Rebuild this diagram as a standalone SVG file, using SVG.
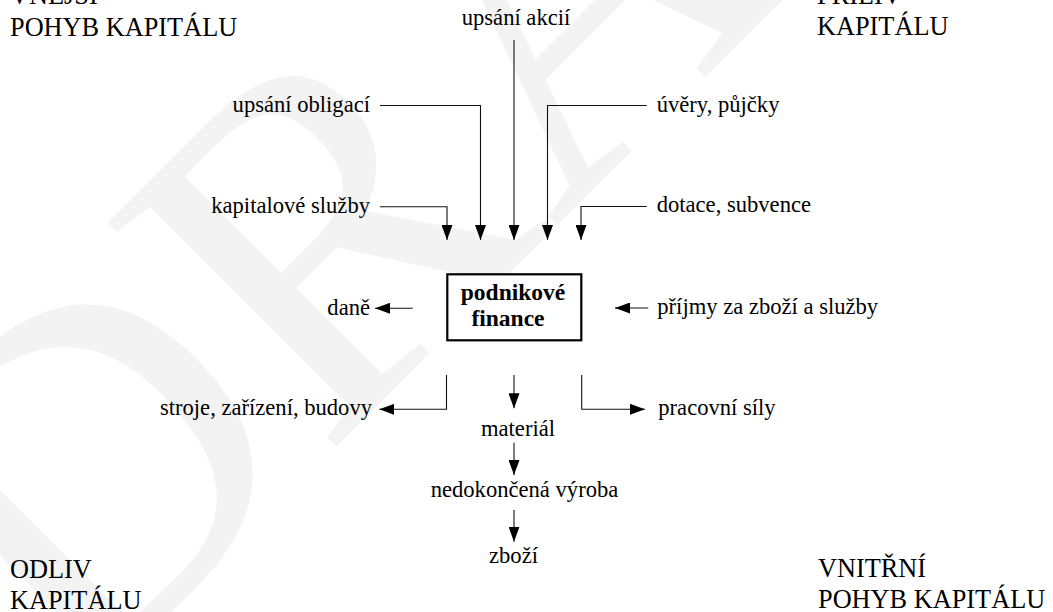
<svg xmlns="http://www.w3.org/2000/svg" width="1053" height="612" viewBox="0 0 1053 612">
  <defs>
    <marker id="ah" viewBox="0 0 15 11" markerWidth="15" markerHeight="11" refX="15" refY="5.5" orient="auto" markerUnits="userSpaceOnUse">
      <path d="M0,0 L15,5.5 L0,11 Z" fill="#000"/>
    </marker>
  </defs>
  <rect x="0" y="0" width="1053" height="612" fill="#fff"/>
  <text x="74.8" y="707.8" font-size="488" font-family="Liberation Serif" fill="#f3f3f3" transform="rotate(-45 74.8 707.8)">DRAFT</text>
  <g id="corner-vnejsi">
    <text x="10" y="4" font-size="26.3" font-family="Liberation Serif">VNĚJŠÍ</text>
    <text x="10" y="35.5" font-size="26.3" font-family="Liberation Serif">POHYB KAPITÁLU</text>
  </g>
  <g id="corner-priliv">
    <text x="817" y="4" font-size="26.3" font-family="Liberation Serif">PŘÍLIV</text>
    <text x="817" y="35" font-size="26.3" font-family="Liberation Serif">KAPITÁLU</text>
  </g>
  <g id="corner-odliv">
    <text x="10" y="578" font-size="26.3" font-family="Liberation Serif">ODLIV</text>
    <text x="10" y="608.5" font-size="26.3" font-family="Liberation Serif">KAPITÁLU</text>
  </g>
  <g id="corner-vnitrni">
    <text x="818" y="577" font-size="26.3" font-family="Liberation Serif">VNITŘNÍ</text>
    <text x="818" y="607.5" font-size="26.3" font-family="Liberation Serif">POHYB KAPITÁLU</text>
  </g>
  <g id="connectors" fill="none" stroke="#111" stroke-width="1.1" marker-end="url(#ah)">
    <path d="M380,206.7 H447 V240"/>
    <path d="M380,105.5 H480.5 V240"/>
    <path d="M514,40 V240"/>
    <path d="M646.7,105.5 H547.5 V240"/>
    <path d="M646.7,206.5 H581 V240"/>
    <path d="M412.7,308.3 H375"/>
    <path d="M648.3,308 H615"/>
    <path d="M446.5,375 V409.3 H379.3"/>
    <path d="M514,375 V408.3"/>
    <path d="M581.7,375 V409.3 H645"/>
    <path d="M514,442.7 V475"/>
    <path d="M514,510 V541.7"/>
  </g>
  <g id="podnikove-finance">
    <rect x="447.3" y="274.3" width="134" height="66" fill="#fff" stroke="#000" stroke-width="2.2"/>
    <text x="513" y="300" font-size="23.5" font-family="Liberation Serif" font-weight="bold" text-anchor="middle">podnikové</text>
    <text x="508" y="325.7" font-size="23.5" font-family="Liberation Serif" font-weight="bold" text-anchor="middle">finance</text>
  </g>
  <g id="upsani-akcii"><text x="516" y="25" font-size="22.6" font-family="Liberation Serif" text-anchor="middle">upsání akcií</text></g>
  <g id="upsani-obligaci"><text x="370" y="111.5" font-size="22.6" font-family="Liberation Serif" text-anchor="end">upsání obligací</text></g>
  <g id="kapitalove-sluzby"><text x="370" y="212.8" font-size="22.6" font-family="Liberation Serif" text-anchor="end">kapitalové služby</text></g>
  <g id="uvery-pujcky"><text x="656.7" y="111.5" font-size="22.6" font-family="Liberation Serif">úvěry, půjčky</text></g>
  <g id="dotace-subvence"><text x="656.7" y="212.2" font-size="22.6" font-family="Liberation Serif">dotace, subvence</text></g>
  <g id="prijmy"><text x="657.3" y="314" font-size="22.6" font-family="Liberation Serif">příjmy za zboží a služby</text></g>
  <g id="dane"><text x="370" y="315" font-size="22.6" font-family="Liberation Serif" text-anchor="end">daně</text></g>
  <g id="stroje"><text x="372" y="414.8" font-size="22.6" font-family="Liberation Serif" text-anchor="end">stroje, zařízení, budovy</text></g>
  <g id="pracovni-sily"><text x="658.3" y="415" font-size="22.6" font-family="Liberation Serif">pracovní síly</text></g>
  <g id="material"><text x="518" y="436" font-size="22.6" font-family="Liberation Serif" text-anchor="middle">materiál</text></g>
  <g id="nedokoncena-vyroba"><text x="524.5" y="497.3" font-size="22.6" font-family="Liberation Serif" text-anchor="middle">nedokončená výroba</text></g>
  <g id="zbozi"><text x="513.5" y="562.7" font-size="22.6" font-family="Liberation Serif" text-anchor="middle">zboží</text></g>
</svg>
